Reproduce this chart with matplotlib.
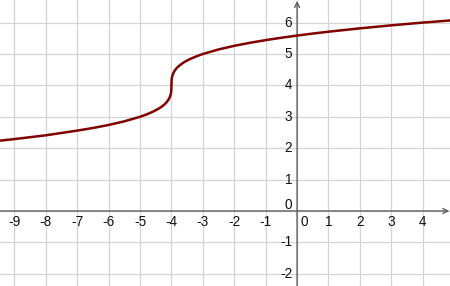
import matplotlib
matplotlib.use("Agg")
import matplotlib.pyplot as plt

# points
xs = [-9.5, -9, -8, -7, -6.5, -6, -5.5, -5, -4.8, -4.6, -4.5, -4.4, -4.3, -4.2, -4.15,
      -4.1, -4.05, -4.02, -4.005, -4.0, -3.995, -3.98, -3.95, -3.9, -3.85, -3.8, -3.7,
      -3.6, -3.5, -3.4, -3.2, -3, -2.5, -2, -1.5, -1, -0.5, 0, 0.5, 1, 2, 3, 4, 4.9]
ys = [2.235, 2.29, 2.41, 2.56, 2.643, 2.74, 2.855, 3.0, 3.072, 3.157, 3.21, 3.263, 3.331,
      3.415, 3.469, 3.536, 3.632, 3.729, 3.829, 4.0, 4.171, 4.271, 4.368, 4.464, 4.531,
      4.585, 4.669, 4.737, 4.794, 4.843, 4.928, 5.0, 5.145, 5.26, 5.357, 5.442, 5.518,
      5.587, 5.651, 5.71, 5.817, 5.913, 6.0, 6.07]

x_ticks = [-9, -8, -7, -6, -5, -4, -3, -2, -1, 1, 2, 3, 4]
y_ticks = [-2, -1, 1, 2, 3, 4, 5, 6]

xmin, xmax = -9.46, 4.87
ymin, ymax = -2.39, 6.72

fig = plt.figure(figsize=(4.5, 2.86), dpi=100)
ax = fig.add_axes([0, 0, 1, 1])
ax.set_xlim(xmin, xmax)
ax.set_ylim(ymin, ymax)
ax.axis('off')

# grid
for gx in range(-9, 5):
    ax.axvline(gx, color='#d4d4d4', lw=0.9, zorder=0)
for gy in range(-2, 7):
    ax.axhline(gy, color='#d4d4d4', lw=0.9, zorder=0)

# axes with open arrows
axcol = '#606060'
ax.annotate('', xy=(xmax - 0.02, 0), xytext=(xmin, 0),
            arrowprops=dict(arrowstyle='->', color=axcol, lw=1.0,
                            mutation_scale=9, shrinkA=0, shrinkB=0), zorder=2)
ax.annotate('', xy=(0, ymax - 0.03), xytext=(0, ymin),
            arrowprops=dict(arrowstyle='->', color=axcol, lw=1.0,
                            mutation_scale=9, shrinkA=0, shrinkB=0), zorder=2)

font = dict(family='Liberation Sans', size=9.8, color='#111111')
for t in x_ticks:
    ax.text(t, -0.34, '%d' % t, ha='center', va='center', **font)
ax.text(0.24, -0.34, '0', ha='center', va='center', **font)
for t in y_ticks:
    ax.text(-0.16, t, '%d' % t, ha='right', va='center', **font)
ax.text(-0.16, 0.2, '0', ha='right', va='center', **font)

ax.plot(xs, ys, color='#800000', lw=1.8, zorder=3,
        solid_capstyle='round', solid_joinstyle='round')

fig.savefig('out.png', dpi=100)
